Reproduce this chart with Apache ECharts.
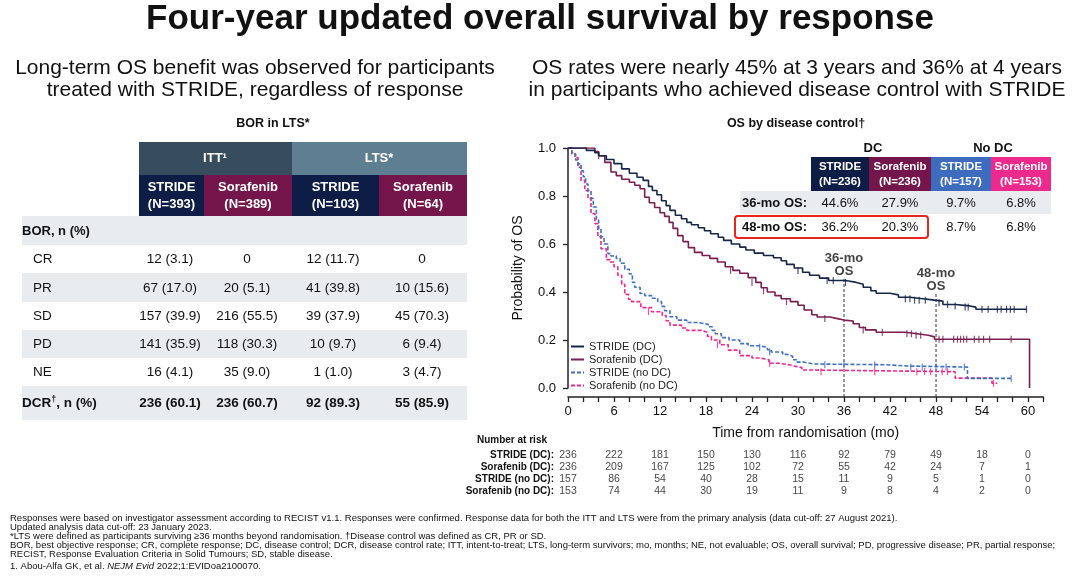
<!DOCTYPE html>
<html><head><meta charset="utf-8">
<script src="https://cdn.jsdelivr.net/npm/echarts@6/dist/echarts.min.js"></script>
<style>html,body{margin:0;padding:0;background:#fff}#c{width:1080px;height:581px}</style>
</head><body><div id="c"></div>
<script>
const FONT = '"Liberation Sans", Arial, sans-serif';

// ---------- KM curve data: [month, survival] ----------
const strideDC = [[0,1],[2.4,0.99],[3.5,0.98],[4,0.968],[5,0.952],[6,0.935],[7,0.913],[8,0.895],[9,0.878],[9.8,0.865],[10.5,0.84],[11,0.823],[11.6,0.805],[12.2,0.78],[12.8,0.76],[13.3,0.74],[14,0.72],[14.8,0.705],[15.5,0.69],[16.1,0.68],[17,0.668],[17.8,0.655],[18.6,0.643],[19.6,0.628],[20.3,0.615],[21.3,0.6],[22.4,0.587],[23.2,0.575],[24.3,0.562],[25.5,0.552],[26.8,0.543],[27.8,0.53],[28.5,0.515],[29.5,0.5],[30.6,0.482],[31.5,0.47],[32.8,0.458],[34,0.448],[36,0.446],[36.6,0.44],[37.6,0.432],[38.5,0.42],[39.5,0.405],[40.2,0.395],[42,0.388],[43.1,0.378],[44.6,0.372],[46.3,0.366],[47.8,0.362],[48.9,0.348],[50.5,0.342],[52.4,0.337],[53.2,0.328],[59.8,0.328]];
const sorafDC = [[0,1],[3.5,0.985],[4,0.968],[4.8,0.94],[5.6,0.9],[6.3,0.885],[7,0.87],[8,0.857],[8.7,0.845],[9.4,0.83],[10,0.795],[10.6,0.772],[11.3,0.752],[12,0.73],[12.6,0.715],[13.2,0.69],[13.7,0.665],[14.3,0.635],[15,0.61],[15.7,0.585],[16.5,0.565],[17.5,0.552],[18.5,0.54],[19.5,0.525],[20.5,0.505],[21.5,0.49],[22.4,0.478],[23.5,0.46],[24.5,0.44],[25.2,0.418],[26,0.4],[27,0.385],[27.8,0.372],[29,0.36],[30,0.345],[30.8,0.325],[31.8,0.305],[32.5,0.296],[34.2,0.29],[35,0.283],[36,0.279],[37.2,0.268],[38,0.252],[38.8,0.242],[40.2,0.232],[44,0.226],[45.5,0.22],[47,0.213],[47.8,0.203],[60.2,0.203],[60.2,0]];
const strideNoDC = [[0,1],[0.5,0.975],[1,0.95],[1.3,0.934],[1.7,0.905],[2,0.88],[2.3,0.85],[2.6,0.823],[3,0.79],[3.3,0.754],[3.7,0.7],[4,0.665],[4.3,0.63],[4.7,0.6],[5.2,0.56],[5.6,0.55],[6.3,0.54],[6.8,0.52],[7.4,0.495],[8,0.475],[8.4,0.44],[8.7,0.42],[9.4,0.394],[10,0.385],[10.9,0.374],[11.7,0.36],[12.2,0.34],[12.6,0.322],[13.3,0.297],[14.2,0.283],[15.5,0.273],[17,0.265],[18.3,0.255],[18.8,0.24],[19.2,0.226],[20,0.21],[21,0.2],[22.4,0.185],[23.5,0.176],[24.8,0.17],[26,0.16],[26.5,0.15],[28,0.14],[28.6,0.132],[29.3,0.118],[29.8,0.108],[30.7,0.1],[32,0.097],[41.5,0.092],[44,0.087],[52.1,0.04],[57.8,0.04]];
const sorafNoDC = [[0,1],[0.5,0.98],[0.9,0.96],[1.3,0.92],[1.7,0.865],[2.2,0.823],[2.6,0.79],[3,0.727],[3.5,0.685],[3.9,0.63],[4.3,0.58],[5,0.535],[5.5,0.525],[6,0.505],[6.5,0.47],[7,0.432],[7.4,0.39],[7.9,0.37],[8.3,0.36],[9.5,0.335],[10.9,0.318],[12.3,0.302],[12.8,0.28],[13.3,0.262],[14.8,0.25],[15.5,0.24],[17.4,0.232],[18.2,0.215],[18.7,0.2],[19.8,0.18],[20.9,0.158],[22.4,0.135],[24,0.125],[25,0.118],[26.2,0.103],[27.5,0.096],[29,0.09],[29.7,0.085],[30.5,0.075],[31.5,0.068],[50.5,0.041],[55.3,0.02],[56,0.02]];

// censoring marks [month, survival]
const strideDCCens = [[30,0.49],[33.8,0.448],[34.6,0.448],[36.2,0.44],[44,0.372],[44.6,0.372],[45.2,0.366],[45.8,0.366],[46.6,0.366],[48.4,0.355],[49.5,0.348],[50.5,0.342],[51.8,0.337],[52.2,0.337],[54,0.328],[54.8,0.328],[56,0.328],[56.5,0.328],[57.2,0.328],[57.7,0.328],[58.2,0.328],[59.8,0.328]];
const sorafDCCens = [[4,0.968],[21.2,0.49],[24,0.44],[25.5,0.405],[28.5,0.36],[33.5,0.29],[38.5,0.242],[41,0.232],[44.2,0.226],[44.8,0.226],[45.4,0.22],[46,0.22],[48.4,0.203],[48.9,0.203],[50.3,0.203],[50.8,0.203],[51.2,0.203],[51.6,0.203],[52,0.203],[53,0.203],[53.6,0.203],[54.2,0.203],[55,0.203],[57.8,0.203]];
const strideNoDCCens = [[25,0.17],[26.3,0.15],[33.5,0.097],[36,0.097],[40,0.097],[44.7,0.087],[46.2,0.087],[48,0.087],[49.3,0.087],[51.7,0.087],[57.8,0.04]];
const sorafNoDCCens = [[10.5,0.318],[19.5,0.18],[26.3,0.103],[33,0.068],[40,0.068],[45.5,0.068],[46.5,0.068],[47.3,0.068],[48.8,0.068],[49.5,0.068],[55.5,0.02]];

const seriesNames = ['STRIDE (DC)','Sorafenib (DC)','STRIDE (no DC)','Sorafenib (no DC)'];
const landmarks = [36, 48];
const landmarkTops = [0.462, 0.4];
const landmarkLabels = ['36-mo\nOS', '48-mo\nOS'];
const axisBottomValue = -0.0375;

// x ticks
const xMin = 0, xMax = 62, xTickStep = 2, xLabelStep = 6;

// number at risk
const riskTimes = [0,6,12,18,24,30,36,42,48,54,60];
const riskStrideDC = [236,222,181,150,130,116,92,79,49,18,0];
const riskSorafDC = [236,209,167,125,102,72,55,42,24,7,1];
const riskStrideNoDC = [157,86,54,40,28,15,11,9,5,1,0];
const riskSorafNoDC = [153,74,44,30,19,11,9,8,4,2,0];
const riskRowLabels = ['STRIDE (DC):','Sorafenib (DC):','STRIDE (no DC):','Sorafenib (no DC):'];

// inset OS table
const insetHeaders = ['STRIDE\n(N=236)','Sorafenib\n(N=236)','STRIDE\n(N=157)','Sorafenib\n(N=153)'];
const os36 = ['44.6%','27.9%','9.7%','6.8%'];
const os48 = ['36.2%','20.3%','8.7%','6.8%'];

// left BOR table
const borHeaders = ['STRIDE\n(N=393)','Sorafenib\n(N=389)','STRIDE\n(N=103)','Sorafenib\n(N=64)'];
const borRows = ['CR','PR','SD','PD','NE'];
const ittStride = ['12 (3.1)','67 (17.0)','157 (39.9)','141 (35.9)','16 (4.1)'];
const ittSoraf = ['0','20 (5.1)','216 (55.5)','118 (30.3)','35 (9.0)'];
const ltsStride = ['12 (11.7)','41 (39.8)','39 (37.9)','10 (9.7)','1 (1.0)'];
const ltsSoraf = ['0','10 (15.6)','45 (70.3)','6 (9.4)','3 (4.7)'];
const dcrRow = ['236 (60.1)','236 (60.7)','92 (89.3)','55 (85.9)'];

const footnotes = [
  'Responses were based on investigator assessment according to RECIST v1.1. Responses were confirmed. Response data for both the ITT and LTS were from the primary analysis (data cut-off: 27 August 2021).',
  'Updated analysis data cut-off: 23 January 2023.',
  '*LTS were defined as participants surviving \u226536 months beyond randomisation. \u2020Disease control was defined as CR, PR or SD.',
  'BOR, best objective response; CR, complete response; DC, disease control; DCR, disease control rate; ITT, intent-to-treat; LTS, long-term survivors; mo, months; NE, not evaluable; OS, overall survival; PD, progressive disease; PR, partial response;',
  'RECIST, Response Evaluation Criteria in Solid Tumours; SD, stable disease.'
];

// ---------- styling ----------
const C_NAVY = '#16264a', C_MAROON = '#7a1d51', C_BLUE = '#3f70c4', C_PINK = '#f0268c';
const colors = [C_NAVY, C_MAROON, C_BLUE, C_PINK];
const HDR_NAVY = '#0d1d45', HDR_MAROON = '#74164b', HDR_BLUE = '#3d6cbf', HDR_PINK = '#ec2a8e';
const BAND = '#e9ecef';

const g = [];
function T(x, y, text, o) {
  o = o || {};
  const st = {
    text: text, x: 0, y: 0,
    fill: o.fill || '#111',
    fontSize: o.size || 13, fontWeight: o.bold ? 'bold' : 'normal',
    fontFamily: o.family || FONT,
    fontStyle: o.italic ? 'italic' : 'normal',
    align: o.align || 'center', textAlign: o.align || 'center',
    verticalAlign: o.va || 'middle', textVerticalAlign: o.va || 'middle',
    lineHeight: o.lh
  };
  if (o.rich) st.rich = o.rich;
  g.push({ type: 'text', x: x, y: y, z: 100, silent: true, style: st });
}
function R(x, y, w, h, fill, o) {
  o = o || {};
  g.push({ type: 'rect', z: o.z || 90, silent: true, shape: { x: x, y: y, width: w, height: h, r: o.r || 0 },
    style: { fill: fill, stroke: o.stroke || null, lineWidth: o.lw || 0 } });
}

// title + subtitles
T(540, 19, 'Four-year updated overall survival by response', { size: 35, bold: true });
T(255, 68, 'Long-term OS benefit was observed for participants', { size: 21 });
T(255, 90, 'treated with STRIDE, regardless of response', { size: 21 });
T(797, 68, 'OS rates were nearly 45% at 3 years and 36% at 4 years', { size: 21 });
T(797, 90, 'in participants who achieved disease control with STRIDE', { size: 21 });

// left table
T(273, 124, 'BOR in LTS*', { size: 12.5, bold: true });
const hx = [139, 204, 292, 379, 467];
R(139, 142, 153, 33, '#374c5c');
R(292, 142, 175, 33, '#5e7e91');
T(215, 158, 'ITT\u00b9', { size: 13, bold: true, fill: '#fff' });
T(379, 158, 'LTS*', { size: 13, bold: true, fill: '#fff' });
const hdrFill = [HDR_NAVY, HDR_MAROON, HDR_NAVY, HDR_MAROON];
for (let i = 0; i < 4; i++) {
  R(hx[i], 175, hx[i + 1] - hx[i], 41, hdrFill[i]);
  T((hx[i] + hx[i + 1]) / 2, 196, borHeaders[i], { size: 13, bold: true, fill: '#fff', lh: 17 });
}
const colC = [170, 247, 333, 422];
const rowTops = [216, 245, 273, 302, 330, 358, 386, 420];
const bandRows = [0, 2, 4, 6];
bandRows.forEach(i => R(22, rowTops[i], 445, rowTops[i + 1] - rowTops[i], BAND, { z: 80 }));
T(22, 231, 'BOR, n (%)', { size: 13, bold: true, align: 'left' });
const bodyY = [259, 288, 316, 344, 372];
const colsData = [ittStride, ittSoraf, ltsStride, ltsSoraf];
borRows.forEach((r, i) => {
  T(33, bodyY[i], r, { size: 13.5, align: 'left' });
  colsData.forEach((c, j) => T(colC[j], bodyY[i], c[i], { size: 13.5 }));
});
T(22, 403, '{b|DCR}{s|\u2020}{b|, n (%)}', { size: 13.5, bold: true, align: 'left',
  rich: { b: { fontSize: 13.5, fontWeight: 'bold', fontFamily: FONT, fill: '#111' },
          s: { fontSize: 9, fontWeight: 'bold', fontFamily: FONT, fill: '#111', verticalAlign: 'top', padding: [0, 0, 6, 0] } } });
dcrRow.forEach((v, j) => T(colC[j], 403, v, { size: 13.5, bold: true }));

// right panel title
T(796, 124, 'OS by disease control\u2020', { size: 12.5, bold: true });

// inset table
T(873, 148, 'DC', { size: 13, bold: true });
T(993, 148, 'No DC', { size: 13, bold: true });
const ix = [811, 869, 931, 991, 1051];
const insetFill = [HDR_NAVY, HDR_MAROON, HDR_BLUE, HDR_PINK];
for (let i = 0; i < 4; i++) {
  R(ix[i], 157, ix[i + 1] - ix[i], 34, insetFill[i], { z: 95 });
  T((ix[i] + ix[i + 1]) / 2, 174, insetHeaders[i], { size: 11.5, bold: true, fill: '#fff', lh: 15 });
}
R(740, 191, 311, 23, BAND, { z: 95 });
T(742, 203, '36-mo OS:', { size: 13, bold: true, align: 'left' });
T(742, 227, '48-mo OS:', { size: 13, bold: true, align: 'left' });
for (let i = 0; i < 4; i++) {
  const cx = (ix[i] + ix[i + 1]) / 2;
  T(cx, 203, os36[i], { size: 13 });
  T(cx, 227, os48[i], { size: 13 });
}
R(735, 216, 193, 22, 'rgba(0,0,0,0)', { stroke: '#e8251f', lw: 2, r: 3, z: 96 });

// number at risk header
T(547, 440, 'Number at risk', { size: 10, bold: true, align: 'right' });

// footnotes
const fnY = [518, 527, 536, 545, 554];
footnotes.forEach((t, i) => T(10, fnY[i], t, { size: 9.5, align: 'left' }));
T(10, 566, '{n|1. Abou-Alfa GK, et al. }{i|NEJM Evid}{n| 2022;1:EVIDoa2100070.}', {
  size: 9.5, align: 'left',
  rich: { n: { fontSize: 9.5, fontFamily: FONT, fill: '#111' }, i: { fontSize: 9.5, fontFamily: FONT, fontStyle: 'italic', fill: '#111' } }
});

// ---------- series ----------
const curves = [strideDC, sorafDC, strideNoDC, sorafNoDC];
const cens = [strideDCCens, sorafDCCens, strideNoDCCens, sorafNoDCCens];
const dashes = ['solid', 'solid', [4, 2], [4, 2]];
const series = [];
[3, 2, 1, 0].forEach(i => {
  series.push({
    name: seriesNames[i], type: 'line', step: 'end', symbol: 'none', data: curves[i],
    xAxisIndex: 0, yAxisIndex: 0, z: 10 + (3 - i), silent: true, animation: false,
    lineStyle: { color: colors[i], width: 1.6, type: dashes[i] }, itemStyle: { color: colors[i] }
  });
  series.push({
    name: seriesNames[i] + ' censored', type: 'scatter', data: cens[i], symbol: 'rect', symbolSize: [1.2, 7],
    xAxisIndex: 0, yAxisIndex: 0, z: 10 + (3 - i), silent: true, animation: false,
    itemStyle: { color: colors[i] }
  });
});
landmarks.forEach((m, k) => {
  series.push({
    name: 'landmark' + m, type: 'line', symbol: 'none', clip: false, silent: true, animation: false,
    data: [[m, axisBottomValue], [m, landmarkTops[k]]],
    lineStyle: { color: '#333', width: 1, type: [3, 2] }, z: 5
  });
  series.push({
    name: 'landmarkLabel' + m, type: 'scatter', symbolSize: 1, itemStyle: { color: 'rgba(0,0,0,0)' },
    clip: false, silent: true, animation: false, z: 6,
    data: [[m, landmarkTops[k]]],
    label: { show: true, position: 'top', distance: -1, formatter: landmarkLabels[k], fontFamily: FONT, fontSize: 13, fontWeight: 'bold', color: '#111', lineHeight: 13 }
  });
});
const riskArrays = [riskStrideDC, riskSorafDC, riskStrideNoDC, riskSorafNoDC];
const riskData = [];
riskArrays.forEach((arr, r) => arr.forEach((v, j) => riskData.push([riskTimes[j], riskRowLabels[r], v])));
series.push({
  name: 'risk', type: 'scatter', xAxisIndex: 1, yAxisIndex: 1, symbolSize: 0, data: riskData, silent: true, animation: false,
  label: { show: true, position: 'inside', formatter: p => String(p.value[2]), fontFamily: FONT, fontSize: 10.5, color: '#111' }
});

const plotW = (xMax - xMin) * 7.667;
const option = {
  backgroundColor: '#fff',
  animation: false,
  textStyle: { fontFamily: FONT },
  graphic: g,
  legend: {
    data: seriesNames, orient: 'vertical', left: 570, top: 341, itemWidth: 13, itemHeight: 10, itemGap: 2,
    itemStyle: { opacity: 0 },
    textStyle: { fontFamily: FONT, fontSize: 11, color: '#222', lineHeight: 11 }, selectedMode: false, padding: 0
  },
  grid: [
    { left: 568, top: 148, width: plotW, height: 240 },
    { left: 568, top: 449, width: plotW, height: 48 }
  ],
  xAxis: [
    {
      type: 'value', gridIndex: 0, min: xMin, max: xMax, interval: xTickStep, offset: 9,
      axisLine: { show: true, onZero: false, lineStyle: { color: '#222', width: 1.5 } },
      axisTick: { show: true, length: 5, lineStyle: { color: '#222', width: 1.3 } },
      axisLabel: { fontSize: 13, color: '#111', margin: 8, formatter: v => (v % xLabelStep === 0 ? String(v) : '') },
      splitLine: { show: false },
      name: 'Time from randomisation (mo)', nameLocation: 'middle', nameGap: 29,
      nameTextStyle: { fontSize: 14, color: '#111' }
    },
    { type: 'value', gridIndex: 1, min: xMin, max: xMax, show: false }
  ],
  yAxis: [
    {
      type: 'value', gridIndex: 0, min: 0, max: 1, interval: 0.2, offset: 3,
      axisLine: { show: true, lineStyle: { color: '#222', width: 1.5 } },
      axisTick: { show: true, length: 5, lineStyle: { color: '#222', width: 1.3 } },
      axisLabel: { fontSize: 13, color: '#111', margin: 9, formatter: v => v.toFixed(1) },
      splitLine: { show: false },
      name: 'Probability of OS', nameLocation: 'middle', nameGap: 40, nameRotate: 90,
      nameTextStyle: { fontSize: 14, color: '#111' }
    },
    {
      type: 'category', gridIndex: 1, data: riskRowLabels, inverse: true,
      axisLine: { show: false }, axisTick: { show: false }, splitLine: { show: false },
      axisLabel: { fontSize: 10, fontWeight: 'bold', color: '#111', margin: 14, interval: 0 }
    }
  ],
  series: series
};
const chart = echarts.init(document.getElementById('c'), null, { renderer: 'canvas' });
chart.setOption(option);
</script></body></html>
